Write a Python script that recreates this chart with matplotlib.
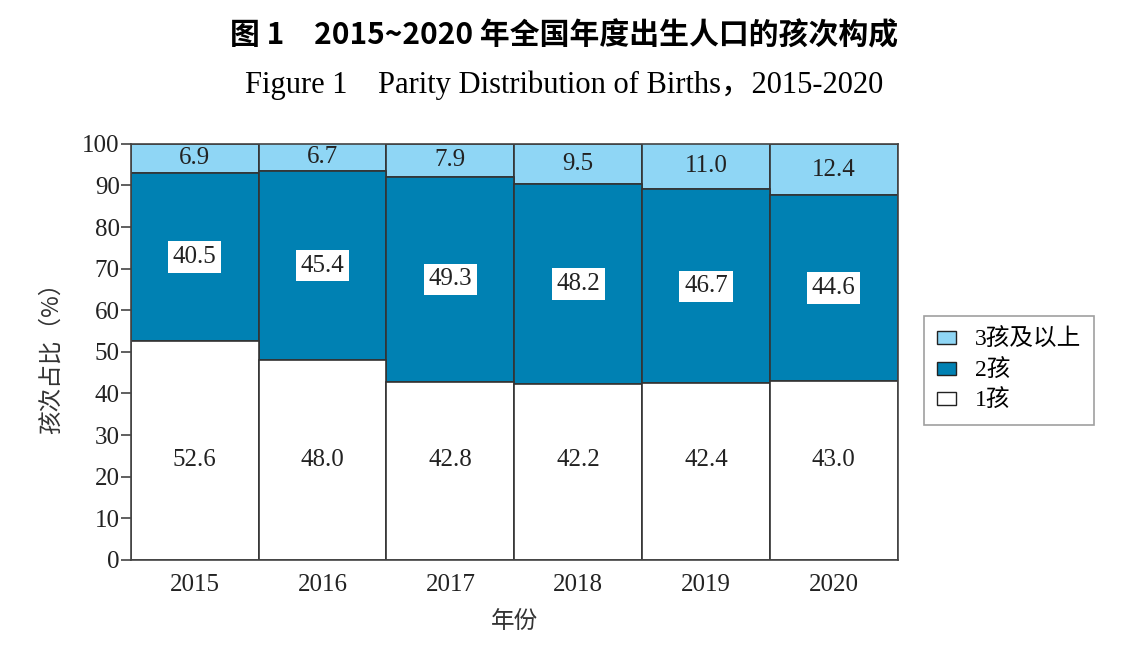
import matplotlib.pyplot as plt
import numpy as np

years = ["2015", "2016", "2017", "2018", "2019", "2020"]
one_child = [52.6, 48.0, 42.8, 42.2, 42.4, 43.0]
two_child = [40.5, 45.4, 49.3, 48.2, 46.7, 44.6]
three_plus = [6.9, 6.7, 7.9, 9.5, 11.0, 12.4]

CJK = ["Noto Sans CJK SC", "DejaVu Sans"]
SERIF = ["Liberation Serif", "Noto Sans CJK SC"]


def main():
    plt.rcParams["font.family"] = SERIF
    fig = plt.figure(figsize=(11.29, 6.45), dpi=100)
    ax = fig.add_axes([0.116, 0.132, 0.679, 0.645])

    x = np.arange(len(years))
    one = np.array(one_child)
    two = np.array(two_child)
    three = np.array(three_plus)
    edge = dict(edgecolor="#333333", linewidth=1.2, width=1.0)
    b3 = ax.bar(x, three, bottom=one + two, color="#8fd6f5", label="3孩及以上", **edge)
    b2 = ax.bar(x, two, bottom=one, color="#0081b3", label="2孩", **edge)
    b1 = ax.bar(x, one, color="white", label="1孩", **edge)

    fs = 18
    for i in range(len(years)):
        ax.text(x[i], 24, f"{one[i]:.1f}", ha="center", va="center", fontsize=fs, color="#222222")
        ax.text(x[i], one[i] + two[i] / 2, f"{two[i]:.1f}", ha="center", va="center",
                fontsize=fs, color="#222222",
                bbox=dict(facecolor="white", edgecolor="none", pad=3.5))
        ax.text(x[i], one[i] + two[i] + three[i] / 2, f"{three[i]:.1f}", ha="center",
                va="center", fontsize=fs, color="#222222")

    ax.set_xlim(-0.5, len(years) - 0.5)
    ax.set_ylim(0, 100)
    ax.set_yticks(range(0, 101, 10))
    ax.set_xticks(x)
    ax.set_xticklabels(years)
    ax.tick_params(axis="y", direction="out", length=7, width=1.2, labelsize=fs, pad=1,
                   color="#444444", labelcolor="#222222")
    ax.tick_params(axis="x", length=0, labelsize=fs, pad=10, labelcolor="#222222")
    for s in ax.spines.values():
        s.set_color("#444444")
        s.set_linewidth(1.2)

    ax.set_xlabel("年份", family=CJK, fontsize=17, color="#333333", labelpad=10)
    ax.set_ylabel("孩次占比（%）", family=CJK, fontsize=17, color="#333333", labelpad=14)

    fig.text(0.5, 0.945, "图 1　2015~2020 年全国年度出生人口的孩次构成",
             family=CJK, fontsize=21.5, fontweight="bold", ha="center", va="center")
    fig.text(0.5, 0.868, "Figure 1    Parity Distribution of Births，2015-2020",
             fontsize=22, ha="center", va="center")

    leg = ax.legend(handles=[b3, b2, b1], loc="center left", bbox_to_anchor=(1.035, 0.455),
                    prop={"family": SERIF[0:1] + CJK, "size": 17}, frameon=True,
                    fancybox=False, handlelength=0.8, handleheight=0.45, handletextpad=0.8,
                    labelspacing=0.35, borderpad=0.55, borderaxespad=0)
    leg.get_frame().set_edgecolor("#888888")
    leg.get_frame().set_linewidth(1.2)
    for h in leg.legend_handles:
        h.set_edgecolor("#222222")
        h.set_linewidth(1.0)

    fig.savefig("out.png", dpi=100)


if __name__ == "__main__":
    main()
